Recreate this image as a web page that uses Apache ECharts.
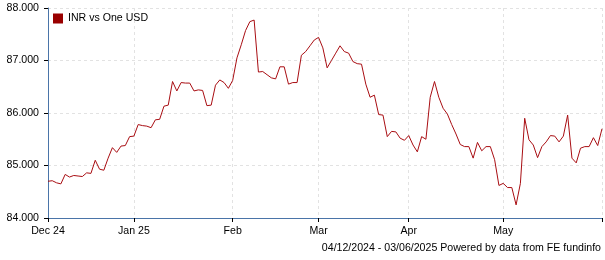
<!DOCTYPE html>
<html><head><meta charset="utf-8">
<script src="https://cdn.jsdelivr.net/npm/echarts/dist/echarts.min.js"></script>
<style>html,body{margin:0;padding:0;background:#fff}#c{width:605px;height:260px}</style>
</head><body><div id="c"></div>
<script>
const seriesName = 'INR vs One USD';
const startDate = '2024-12-04';
const endDate = '2025-06-03';
const inrValues = [
  84.70, 84.71, 84.67, 84.65, 84.83, 84.78, 84.81, 84.80, 84.79, 84.86,
  84.85, 85.10, 84.93, 84.91, 85.14, 85.34, 85.25, 85.37, 85.38, 85.55,
  85.56, 85.78, 85.76, 85.75, 85.72, 85.87, 85.88, 86.13, 86.15, 86.60,
  86.42, 86.58, 86.57, 86.57, 86.42, 86.44, 86.43, 86.14, 86.15, 86.53,
  86.63, 86.58, 86.47, 86.62, 87.05, 87.30, 87.57, 87.74, 87.77, 86.78,
  86.79, 86.73, 86.67, 86.65, 86.88, 86.88, 86.55, 86.58, 86.58, 87.10,
  87.17, 87.28, 87.39, 87.44, 87.24, 86.86, 87.00, 87.14, 87.28, 87.17,
  87.14, 86.98, 86.94, 86.93, 86.55, 86.30, 86.34, 85.97, 85.96, 85.55,
  85.65, 85.64, 85.52, 85.48, 85.57, 85.39, 85.26, 85.55, 85.50, 86.30,
  86.60, 86.30, 86.09, 85.98, 85.78, 85.60, 85.40, 85.36, 85.36, 85.14,
  85.44, 85.28, 85.36, 85.36, 85.11, 84.62, 84.66, 84.58, 84.58, 84.25,
  84.66, 85.90, 85.49, 85.39, 85.15, 85.36, 85.45, 85.57, 85.56, 85.45,
  85.56, 85.96, 85.14, 85.05, 85.33, 85.36, 85.36, 85.53, 85.38, 85.70
];
const monthTicks = {
  '2024-12-04': 'Dec 24', '2025-01-01': 'Jan 25', '2025-02-03': 'Feb',
  '2025-03-03': 'Mar', '2025-04-01': 'Apr', '2025-05-01': 'May', '2025-06-03': ''
};
const yMin = 84, yMax = 88, yStep = 1;
const footerText = '04/12/2024 - 03/06/2025 Powered by data from FE fundinfo';

// trading-day categories (weekdays)
const dates = [];
(function(){
  const s = startDate.split('-').map(Number), e = endDate.split('-').map(Number);
  let t = Date.UTC(s[0], s[1]-1, s[2]);
  const end = Date.UTC(e[0], e[1]-1, e[2]);
  while (t <= end) {
    const d = new Date(t);
    const wd = d.getUTCDay();
    if (wd !== 0 && wd !== 6) dates.push(d.toISOString().slice(0,10));
    t += 86400000;
  }
})();

const FONT = 'Liberation Sans, Arial, sans-serif';
const FS = 10.6;
const isTick = (i, v) => Object.prototype.hasOwnProperty.call(monthTicks, v);
const chart = echarts.init(document.getElementById('c'), null, {renderer: 'canvas'});
chart.setOption({
  animation: false,
  grid: {left: 48, right: 2, top: 8, bottom: 42},
  legend: {
    left: 53, top: 13, padding: 0, icon: 'rect', itemWidth: 10, itemHeight: 10, itemGap: 5,
    textStyle: {fontSize: FS, color: '#000', fontFamily: FONT},
    data: [seriesName]
  },
  xAxis: {
    type: 'category', boundaryGap: false, data: dates,
    axisLine: {lineStyle: {color: '#4a74a8', width: 1}},
    axisTick: {show: true, interval: isTick, length: 4, lineStyle: {color: '#000'}},
    axisLabel: {interval: isTick, formatter: v => monthTicks[v] || '', color: '#000', fontSize: FS, fontFamily: FONT, margin: 8},
    splitLine: {show: true, interval: isTick, lineStyle: {color: '#e2e2e2', type: [3, 3]}}
  },
  yAxis: {
    type: 'value', min: yMin, max: yMax, interval: yStep,
    axisLine: {show: true, lineStyle: {color: '#4a74a8', width: 1}},
    axisTick: {show: true, length: 4, lineStyle: {color: '#000'}},
    axisLabel: {formatter: v => v.toFixed(3), color: '#000', fontSize: FS, fontFamily: FONT, margin: 9},
    splitLine: {show: true, lineStyle: {color: '#e2e2e2', type: [3, 3]}}
  },
  graphic: [{
    type: 'text', right: 4, top: 243,
    style: {text: footerText, fill: '#000', fontSize: FS, fontFamily: FONT}
  }],
  series: [{
    name: seriesName, type: 'line', data: inrValues, showSymbol: false,
    lineStyle: {color: '#a80d12', width: 1},
    itemStyle: {color: '#990000'}
  }]
});
</script></body></html>
